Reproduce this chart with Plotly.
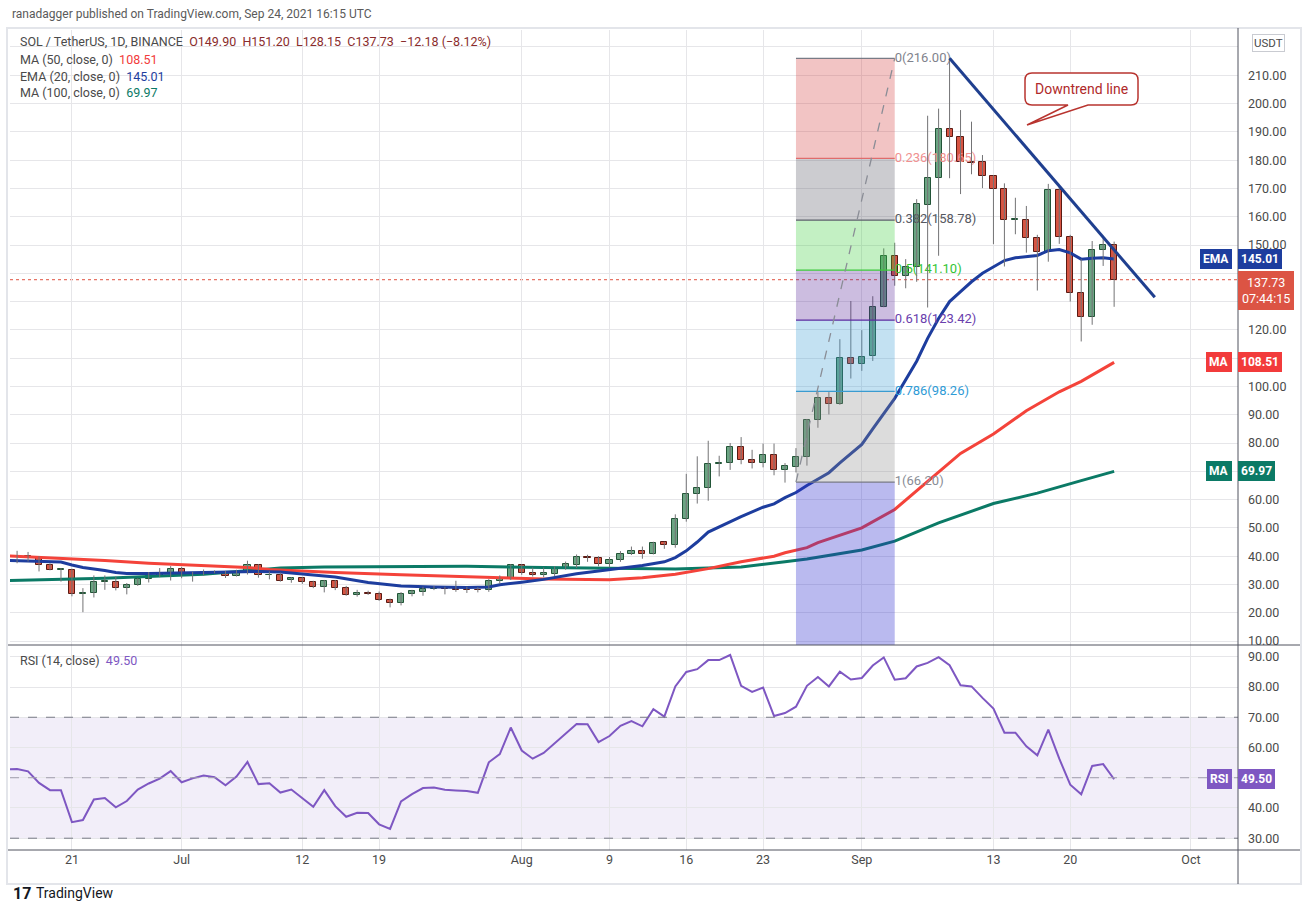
import plotly.graph_objects as go
import pandas as pd

# ---------------- data ----------------
candle_start = "2021-06-16"
opens = [40.0, 40.0, 39.3, 36.8, 35.2, 35.1, 26.8, 27.0, 30.8, 31.0,
         28.7, 29.8, 31.9, 33.1, 34.0, 35.4, 33.4, 34.2, 34.5, 34.4,
         33.1, 34.2, 36.8, 33.2, 33.4, 31.5, 32.2, 30.8, 29.1, 31.3,
         28.7, 26.2, 27.1, 26.6, 24.6, 23.4, 26.6, 27.5, 28.4, 28.7,
         28.4, 28.1, 28.1, 27.9, 31.3, 32.1, 36.8, 34.1, 33.3, 33.8,
         35.6, 36.9, 39.7, 39.3, 37.4, 38.5, 40.6, 41.7, 40.8, 44.9,
         44.1, 53.3, 61.9, 64.0, 72.7, 72.9, 78.6, 74.0, 72.9, 75.7,
         70.4, 71.5, 74.9, 88.0, 95.9, 93.9, 110.2, 108.1, 110.7, 128.1,
         146.2, 139.0, 142.1, 164.2, 173.6, 191.0, 188.1, 179.5, 179.3, 174.4,
         169.7, 158.9, 158.8, 152.4, 147.5, 169.5, 152.8, 133.0, 124.5, 148.3,
         149.9]
highs = [41.9, 41.5, 40.0, 37.5, 35.8, 35.6, 28.7, 33.2, 33.2, 32.8,
         30.5, 32.2, 34.4, 35.8, 36.5, 36.2, 34.5, 35.3, 35.0, 34.8,
         35.2, 38.4, 37.2, 34.6, 34.2, 32.6, 32.6, 31.3, 31.6, 31.6,
         29.5, 28.1, 27.8, 27.5, 25.0, 27.3, 28.1, 29.2, 29.5, 29.2,
         31.3, 29.2, 29.0, 31.9, 33.2, 37.2, 37.2, 36.0, 36.0, 36.4,
         38.1, 40.6, 40.5, 40.0, 39.7, 41.8, 43.4, 43.4, 45.1, 45.1,
         54.8, 69.1, 75.3, 80.8, 75.5, 80.0, 82.1, 77.6, 79.8, 79.8,
         72.9, 78.2, 88.5, 98.0, 98.0, 116.7, 130.2, 119.9, 131.9, 148.8,
         150.8, 145.0, 166.2, 195.7, 198.2, 216.0, 197.7, 193.6, 181.8, 174.7,
         171.8, 166.7, 163.8, 153.6, 171.6, 170.6, 153.6, 145.0, 151.4, 152.4,
         151.2]
lows = [37.5, 38.1, 34.6, 35.0, 31.0, 25.8, 20.2, 25.4, 28.1, 27.9,
        26.5, 29.5, 30.7, 32.6, 31.4, 32.2, 31.0, 33.1, 34.0, 32.3,
        32.8, 33.5, 32.4, 31.8, 31.0, 30.6, 30.2, 28.7, 27.2, 28.0,
        26.0, 25.7, 26.3, 24.2, 21.9, 22.6, 25.8, 26.0, 28.0, 26.5,
        27.4, 27.0, 27.2, 27.4, 30.2, 31.6, 33.4, 32.8, 32.5, 33.0,
        35.2, 35.8, 38.0, 36.4, 36.1, 38.0, 40.4, 39.1, 40.6, 42.6,
        43.0, 52.2, 58.6, 59.6, 68.2, 70.5, 72.5, 71.0, 71.4, 68.6,
        66.0, 69.6, 72.0, 85.4, 90.1, 93.5, 102.8, 105.5, 109.0, 128.0,
        135.6, 134.7, 137.0, 127.9, 146.2, 173.6, 168.0, 175.0, 170.1, 150.3,
        142.4, 153.8, 147.3, 133.9, 144.1, 150.4, 130.0, 115.9, 121.8, 142.6,
        128.15]
closes = [40.1, 39.4, 36.8, 35.2, 35.4, 26.7, 27.1, 30.8, 31.1, 28.7,
          29.9, 31.9, 33.1, 34.0, 35.4, 33.3, 34.0, 34.4, 34.3, 33.1,
          34.4, 36.8, 33.3, 33.5, 31.4, 32.2, 30.8, 29.1, 31.3, 28.7,
          26.2, 27.1, 26.6, 24.5, 23.4, 26.7, 27.8, 28.4, 28.7, 28.4,
          27.9, 28.0, 27.9, 31.3, 32.2, 36.8, 34.0, 33.3, 34.0, 35.6,
          37.2, 39.8, 39.2, 37.4, 38.5, 40.6, 41.7, 40.9, 44.7, 44.1,
          53.3, 62.0, 64.0, 72.7, 72.9, 78.6, 74.0, 72.9, 75.7, 70.4,
          71.8, 74.9, 88.0, 96.0, 93.9, 110.2, 108.1, 110.4, 128.1, 146.2,
          138.9, 142.1, 164.4, 173.6, 191.0, 188.2, 179.5, 179.1, 174.4, 169.7,
          158.9, 159.1, 152.4, 147.5, 169.5, 152.8, 133.0, 124.5, 148.3, 149.9,
          137.73]
dates = pd.date_range(candle_start, periods=len(opens), freq="D")

rsi_start = "2021-06-15"
rsi_vals = [52.7, 52.9, 52.1, 48.3, 45.9, 45.9, 35.3, 36.0, 42.8, 43.3, 40.2, 42.3, 46.1, 48.1, 49.7, 52.2,
            48.5, 49.8, 50.7, 50.2, 47.5, 50.4, 55.2, 47.9, 48.2, 45.1, 46.1, 43.3, 40.4, 45.9, 40.6, 37.1,
            38.4, 38.3, 34.6, 33.1, 42.2, 44.6, 46.6, 46.8, 46.0, 45.8, 45.6, 45.0, 55.1, 57.8, 66.6,
            59.0, 56.3, 58.2, 61.4, 64.3, 67.8, 67.7, 61.8, 63.8, 67.2, 68.7, 67.0, 72.7, 70.2, 80.2, 85.0,
            85.9, 88.9, 88.9, 90.6, 80.4, 78.4, 79.8, 70.4, 71.4, 73.5, 80.4, 83.3, 80.2, 85.1, 82.5,
            83.0, 87.1, 89.8, 82.4, 82.9, 86.8, 88.0, 89.9, 87.2, 80.6, 80.2, 76.4, 72.9, 64.9, 64.9, 60.4,
            57.4, 65.9, 56.3, 47.7, 44.5, 53.9, 54.5, 49.5]
rsi_dates = pd.date_range(rsi_start, periods=len(rsi_vals), freq="D")

ema20_dates = ["2021-06-15", "2021-06-19", "2021-06-20", "2021-06-21", "2021-06-22", "2021-06-24", "2021-06-25",
               "2021-06-26", "2021-06-28", "2021-07-03", "2021-07-05", "2021-07-08", "2021-07-10", "2021-07-12",
               "2021-07-15", "2021-07-18", "2021-07-21", "2021-07-24", "2021-07-27", "2021-07-29", "2021-07-30",
               "2021-08-01", "2021-08-03", "2021-08-06", "2021-08-09", "2021-08-12", "2021-08-14", "2021-08-15",
               "2021-08-16", "2021-08-17", "2021-08-18", "2021-08-20", "2021-08-21", "2021-08-23", "2021-08-24",
               "2021-08-25", "2021-08-26", "2021-08-27", "2021-08-29", "2021-08-30", "2021-09-01", "2021-09-02",
               "2021-09-04", "2021-09-06", "2021-09-07", "2021-09-08", "2021-09-09", "2021-09-10", "2021-09-11",
               "2021-09-12", "2021-09-13", "2021-09-14", "2021-09-15", "2021-09-16", "2021-09-17", "2021-09-18",
               "2021-09-19", "2021-09-20", "2021-09-21", "2021-09-22", "2021-09-23", "2021-09-24"]
ema20_vals = [38.5, 38.1, 37.9, 36.9, 36.0, 34.9, 34.2,
              33.9, 33.9, 34.2, 34.4, 34.6, 34.4, 33.6,
              32.6, 30.7, 29.5, 29.1, 28.9, 29.1, 29.9,
              30.8, 31.8, 33.8, 35.3, 36.7, 38.0, 39.5,
              41.9, 45.0, 48.5, 52.2, 54.0, 57.3, 58.5,
              60.7, 62.5, 65.0, 69.5, 73.0, 79.5, 85.0,
              95.8, 108.9, 117.0, 124.0, 130.0, 133.5, 137.0,
              140.0, 142.3, 144.5, 145.5, 146.0, 146.3, 148.0,
              148.4, 147.2, 145.0, 145.3, 145.5, 145.01]

ma50_dates = ["2021-06-15", "2021-06-19", "2021-06-24", "2021-06-28", "2021-07-03", "2021-07-07", "2021-07-09",
              "2021-07-15", "2021-07-21", "2021-07-27", "2021-08-01", "2021-08-03", "2021-08-09", "2021-08-12",
              "2021-08-15", "2021-08-18", "2021-08-21", "2021-08-24", "2021-08-25", "2021-08-27", "2021-08-28",
              "2021-09-01", "2021-09-04", "2021-09-07", "2021-09-10", "2021-09-13", "2021-09-16", "2021-09-19",
              "2021-09-21", "2021-09-24"]
ma50_vals = [40.1, 39.5, 38.5, 37.5, 36.6, 36.0, 35.3,
             34.2, 33.4, 32.8, 32.1, 31.9, 31.7, 32.4,
             33.6, 35.6, 38.0, 40.0, 41.2, 43.0, 44.8,
             50.0, 56.5, 66.5, 76.3, 83.2, 91.4, 98.1,
             101.8, 108.51]

ma100_dates = ["2021-06-15", "2021-06-24", "2021-07-03", "2021-07-07", "2021-07-10", "2021-07-14", "2021-07-21",
               "2021-07-27", "2021-08-03", "2021-08-09", "2021-08-15", "2021-08-21", "2021-08-24", "2021-08-25",
               "2021-08-27", "2021-09-01", "2021-09-04", "2021-09-08", "2021-09-13", "2021-09-17", "2021-09-21",
               "2021-09-24"]
ma100_vals = [31.4, 32.2, 33.6, 35.0, 35.8, 36.2, 36.4,
              36.4, 36.0, 35.8, 35.5, 36.2, 37.4, 38.0,
              39.0, 42.2, 45.3, 51.8, 58.6, 62.3, 66.7,
              69.97]

tick_dates = ["2021-06-21", "2021-07-01", "2021-07-12", "2021-07-19", "2021-08-01", "2021-08-09",
              "2021-08-16", "2021-08-23", "2021-09-01", "2021-09-13", "2021-09-20", "2021-10-01"]
tick_text = ["21", "Jul", "12", "19", "Aug", "9", "16", "23", "Sep", "13", "20", "Oct"]
price_ticks = [10, 20, 30, 40, 50, 60, 70, 80, 90, 100, 110, 120, 130, 140, 150, 160,
               170, 180, 190, 200, 210, 220]
rsi_ticks = [30, 40, 50, 60, 70, 80, 90]

fib_ratios = [0, 0.236, 0.382, 0.5, 0.618, 0.786, 1]
fib_high = 216.00
fib_low = 66.20
fib_start = "2021-08-26"
fib_end = "2021-09-04"

trend_dates = ["2021-09-09", "2021-09-27 17:00"]
trend_vals = [216.0, 131.5]

last_o, last_h, last_l, last_c = 149.90, 151.20, 128.15, 137.73
last_chg, last_pct = -12.18, -8.12
ema_last, ma50_last, ma100_last, rsi_last = 145.01, 108.51, 69.97, 49.50
countdown = "07:44:15"

# ---------------- geometry / style ----------------
W, H = 1310, 912
PL, PR, PT, PB = 10, 1238, 30, 850
X_RANGE = ["2021-06-15 08:30", "2021-10-05 07:00"]
Y_RANGE = [8.6, 226.0]
RSI_RANGE = [26.1, 93.9]
GRID = "#e6e6e9"
AXTXT = "#4a4a4a"
FONT = "Roboto"
DAY_MS = 86400000
# axis labels hidden behind the value tags on the price scale
covered_price = {220, 140, 130, 110, 70}
covered_rsi = {50}


def px(x):
    return (x - PL) / (PR - PL)


def py(y):
    return (PB - y) / (PB - PT)


fig = go.Figure()

# moving averages (under the candles)
fig.add_trace(go.Scatter(x=ma100_dates, y=ma100_vals, mode="lines",
                         line=dict(color="#0b7a66", width=3), hoverinfo="skip"))
fig.add_trace(go.Scatter(x=ma50_dates, y=ma50_vals, mode="lines",
                         line=dict(color="#f4433a", width=3), hoverinfo="skip"))
fig.add_trace(go.Scatter(x=ema20_dates, y=ema20_vals, mode="lines",
                         line=dict(color="#1d3d9e", width=3), hoverinfo="skip"))

# fib labels (under candles)
fib_vals = [fib_high - r * (fib_high - fib_low) for r in fib_ratios]
label_colors = ["#7f828c", "#f09090", "#55585f", "#33c433", "#6a40ad", "#2f9bd6", "#8a8d96"]
fig.add_trace(go.Scatter(x=[fib_end] * len(fib_vals), y=fib_vals, mode="text",
                         text=[f"{r:g}({v:.2f})" for r, v in zip(fib_ratios, fib_vals)],
                         textposition="middle right",
                         textfont=dict(color=label_colors, size=13, family=FONT),
                         hoverinfo="skip"))

# wicks
wx, wy = [], []
for d, h, l in zip(dates, highs, lows):
    wx += [d, d, None]
    wy += [l, h, None]
fig.add_trace(go.Scatter(x=wx, y=wy, mode="lines", line=dict(color="#737375", width=1),
                         hoverinfo="skip"))

# bodies
up = [c >= o for o, c in zip(opens, closes)]
base = [min(o, c) for o, c in zip(opens, closes)]
height = [max(abs(c - o), 0.12) for o, c in zip(opens, closes)]
fig.add_trace(go.Bar(x=dates, y=height, base=base, width=0.56 * DAY_MS,
                     marker=dict(color=["#6ba583" if u else "#d75442" for u in up],
                                 line=dict(color=["#225437" if u else "#5b1a13" for u in up], width=1)),
                     hoverinfo="skip"))

# downtrend line
fig.add_trace(go.Scatter(x=trend_dates, y=trend_vals, mode="lines",
                         line=dict(color="#1f3f8f", width=3), hoverinfo="skip"))

# RSI
fig.add_trace(go.Scatter(x=rsi_dates, y=rsi_vals, mode="lines", xaxis="x2", yaxis="y2",
                         line=dict(color="#7e57c2", width=2), hoverinfo="skip"))

shapes = []
# RSI band & levels
shapes.append(dict(type="rect", xref="x2 domain", yref="y2", x0=0, x1=1, y0=30, y1=70,
                   fillcolor="rgba(126,87,194,0.10)", line=dict(width=0), layer="below"))
for lvl, col in [(70, "#787b86"), (50, "#a09cad"), (30, "#787b86")]:
    shapes.append(dict(type="line", xref="x2 domain", yref="y2", x0=0, x1=1, y0=lvl, y1=lvl,
                       line=dict(color=col, width=1, dash="dash"), layer="above"))
# last price dotted line
shapes.append(dict(type="line", xref="x domain", yref="y", x0=0, x1=1, y0=last_c, y1=last_c,
                   line=dict(color="#e05240", width=1, dash="dot"), layer="below"))
# fib zones
zone_colors = ["rgba(212,58,58,0.30)", "rgba(85,85,98,0.30)", "rgba(55,205,55,0.30)",
               "rgba(85,38,152,0.30)", "rgba(55,155,212,0.30)", "rgba(138,138,138,0.30)",
               "rgba(45,45,205,0.33)"]
zone_edges = fib_vals + [Y_RANGE[0]]
for i in range(len(zone_edges) - 1):
    shapes.append(dict(type="rect", xref="x", yref="y", x0=fib_start, x1=fib_end,
                       y0=zone_edges[i + 1], y1=zone_edges[i], fillcolor=zone_colors[i],
                       line=dict(width=0), layer="above"))
line_colors = ["#787b86", "#e06c6c", "#5d606b", "#3cc83c", "#5b2da0", "#3a9bd0", "#787b86"]
for v, col in zip(fib_vals, line_colors):
    shapes.append(dict(type="line", xref="x", yref="y", x0=fib_start, x1=fib_end, y0=v, y1=v,
                       line=dict(color=col, width=1.3), layer="above"))
shapes.append(dict(type="line", xref="x", yref="y", x0=fib_start, x1=fib_end, y0=fib_low, y1=fib_high,
                   line=dict(color="#8a8d96", width=1.3, dash="dash"), layer="above"))

# callout box
L_, R_, T_, B_, r_ = 1025, 1138, 73, 105, 7
def P(x, y):
    return f"{px(x):.5f},{py(y):.5f}"
path = (f"M {P(L_ + r_, T_)} L {P(R_ - r_, T_)} Q {P(R_, T_)} {P(R_, T_ + r_)} "
        f"L {P(R_, B_ - r_)} Q {P(R_, B_)} {P(R_ - r_, B_)} L {P(1088, B_)} L {P(1027, 125)} "
        f"L {P(1068, B_)} L {P(L_ + r_, B_)} Q {P(L_, B_)} {P(L_, B_ - r_)} L {P(L_, T_ + r_)} "
        f"Q {P(L_, T_)} {P(L_ + r_, T_)} Z")
shapes.append(dict(type="path", xref="paper", yref="paper", path=path, fillcolor="white",
                   line=dict(color="#b8342f", width=1.5), layer="above"))

# frame & separators
shapes.append(dict(type="rect", xref="paper", yref="paper", x0=px(7), x1=px(1301), y0=py(884), y1=py(28),
                   line=dict(color="#e3e5ea", width=2), layer="above"))
for y in (645, 850):
    shapes.append(dict(type="line", xref="paper", yref="paper", x0=px(8), x1=px(1300), y0=py(y), y1=py(y),
                       line=dict(color="#50535e", width=1), layer="above"))
shapes.append(dict(type="line", xref="paper", yref="paper", x0=1, x1=1, y0=py(884), y1=py(28),
                   line=dict(color="#50535e", width=1), layer="above"))

ann = []
def text_ann(x, y, s, size=12.5, color=AXTXT, xanchor="left"):
    ann.append(dict(xref="paper", yref="paper", x=px(x), y=py(y), text=s, showarrow=False,
                    xanchor=xanchor, yanchor="middle", font=dict(size=size, color=color, family=FONT)))

NB = "\u00a0"
text_ann(10, 14, "ranadagger published on TradingView.com, Sep 24, 2021 16:15 UTC", size=12, color="#5a5a5a")
ohlc = (f"O{last_o:.2f}{NB*2}H{last_h:.2f}{NB*2}L{last_l:.2f}{NB*2}C{last_c:.2f}{NB*2}"
        f"\u2212{abs(last_chg):.2f} (\u2212{abs(last_pct):.2f}%)")
text_ann(18, 41, f"SOL / TetherUS, 1D, BINANCE{NB*2}<span style='color:#8a2c2c'>{ohlc}</span>")
text_ann(18, 59, f"MA (50, close, 0){NB*2}<span style='color:#f23b3b'>{ma50_last:.2f}</span>")
text_ann(18, 76, f"EMA (20, close, 0){NB*2}<span style='color:#1d3d9e'>{ema_last:.2f}</span>")
text_ann(18, 93, f"MA (100, close, 0){NB*2}<span style='color:#0b7a66'>{ma100_last:.2f}</span>")
text_ann(18, 660, f"RSI (14, close){NB*2}<span style='color:#7e57c2'>{rsi_last:.2f}</span>")
text_ann(1081.5, 89, "Downtrend line", size=14, color="#b02a2a", xanchor="center")
text_ann(11, 893, "<b>17</b>", size=16, color="#131722")
text_ann(34, 893, "TradingView", size=14, color="#131722")

ann.append(dict(xref="paper", yref="paper", x=px(1269), y=py(43), text="USDT", showarrow=False,
                xanchor="center", yanchor="middle", bgcolor="white", bordercolor="#c9cbd1",
                borderwidth=1, borderpad=1, font=dict(size=11.5, color="#4a4a4a", family=FONT)))


def tag(yref, val, label, color):
    ann.append(dict(xref="paper", yref=yref, x=1.0, y=val, text=f"<b>{val:.2f}</b>", showarrow=False,
                    xanchor="left", yanchor="middle", bgcolor=color, bordercolor=color, borderwidth=1,
                    borderpad=2, font=dict(size=12, color="white", family=FONT)))
    ann.append(dict(xref="paper", yref=yref, x=px(1232), y=val, text=f"<b>{label}</b>", showarrow=False,
                    xanchor="right", yanchor="middle", bgcolor=color, bordercolor=color, borderwidth=1,
                    borderpad=2, font=dict(size=12, color="white", family=FONT)))


tag("y", ema_last, "EMA", "#1d3d9e")
tag("y", ma50_last, "MA", "#f23b3b")
tag("y", ma100_last, "MA", "#0b7a66")
tag("y2", rsi_last, "RSI", "#7e57c2")
ann.append(dict(xref="paper", yref="y", x=1.0, y=last_c, text=f"{last_c:.2f}<br>{countdown}",
                showarrow=False, xanchor="left", yanchor="top", yshift=9, align="center",
                bgcolor="#dc5444", bordercolor="#dc5444", borderwidth=1, borderpad=3,
                font=dict(size=12.5, color="white", family=FONT)))

common_x = dict(type="date", range=X_RANGE, tickvals=tick_dates, showgrid=True, gridcolor=GRID,
                gridwidth=1, zeroline=False, showline=False, ticks="", fixedrange=True)
price_text = ["" if v in covered_price else f"{v:.2f}" for v in price_ticks]
rsi_text = ["" if v in covered_rsi else f"{v:.2f}" for v in rsi_ticks]
fig.update_layout(
    width=W, height=H,
    margin=dict(l=PL, r=W - PR, t=PT, b=H - PB),
    paper_bgcolor="white", plot_bgcolor="white",
    showlegend=False,
    font=dict(family=FONT, size=12, color=AXTXT),
    xaxis=dict(**common_x, domain=[0, 1], anchor="y", showticklabels=False),
    xaxis2=dict(**common_x, domain=[0, 1], anchor="y2", matches="x", ticktext=tick_text,
                tickfont=dict(size=12.5, color=AXTXT, family=FONT)),
    yaxis=dict(domain=[0.25, 1], anchor="x", side="right", range=Y_RANGE, tickvals=price_ticks,
               ticktext=price_text, showgrid=True, gridcolor=GRID, zeroline=False, showline=False,
               ticks="", ticklabelstandoff=9, tickfont=dict(size=12.5, color=AXTXT, family=FONT)),
    yaxis2=dict(domain=[0, 0.25], anchor="x2", side="right", range=RSI_RANGE, tickvals=rsi_ticks,
                ticktext=rsi_text, showgrid=True, gridcolor=GRID, zeroline=False, showline=False,
                ticks="", ticklabelstandoff=9, tickfont=dict(size=12.5, color=AXTXT, family=FONT)),
    shapes=shapes,
    annotations=ann,
    bargap=0,
)

fig.write_html("out.html", config={"displayModeBar": False},
               post_script="document.body.style.margin='0px';")
